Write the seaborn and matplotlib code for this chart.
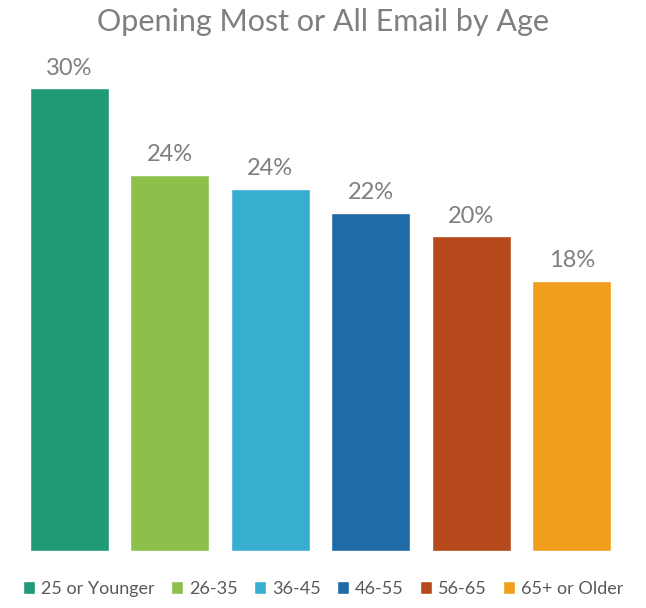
import pandas as pd
import matplotlib.pyplot as plt
import seaborn as sns

ages = ['25 or Younger', '26-35', '36-45', '46-55', '56-65', '65+ or Older']
pct_open = [30.0, 24.4, 23.5, 21.9, 20.4, 17.5]
colors = ['#1f9a77', '#8cc04b', '#37add0', '#1f6ba8', '#b5491b', '#f19e1f']

df = pd.DataFrame({'age': ages, 'pct': pct_open})

sns.set_style('white')
plt.rcParams['font.family'] = ['Lato', 'DejaVu Sans']

fig = plt.figure(figsize=(6.46, 6.08), dpi=100)
ax = fig.add_axes([19 / 646, 57 / 608, 603 / 646, 509 / 608])
sns.barplot(data=df, x='age', y='pct', hue='age', palette=colors, width=0.79,
            dodge=False, saturation=1, legend=True, ax=ax)
ax.set_ylim(0, 33)
ax.set_xticks([])
ax.set_yticks([])
ax.set_xlabel('')
ax.set_ylabel('')
sns.despine(ax=ax, left=True, bottom=True)

# percent labels above bars
for c in ax.containers:
    ax.bar_label(c, fmt='%.0f%%', padding=7, color='#7f7f7f', fontsize=17)

fig.text(0.5, 1 - 22 / 608, 'Opening Most or All Email by Age', ha='center', va='center',
         fontsize=22, color='#7f7f7f')

sns.move_legend(ax, 'center', bbox_to_anchor=(0.5, 19 / 608), bbox_transform=fig.transFigure,
                ncol=6, frameon=False, title=None, handlelength=0.7, handleheight=0.7,
                handletextpad=0.3, columnspacing=0.9, fontsize=13, labelcolor='#595959')

fig.savefig('out.png', dpi=100)
